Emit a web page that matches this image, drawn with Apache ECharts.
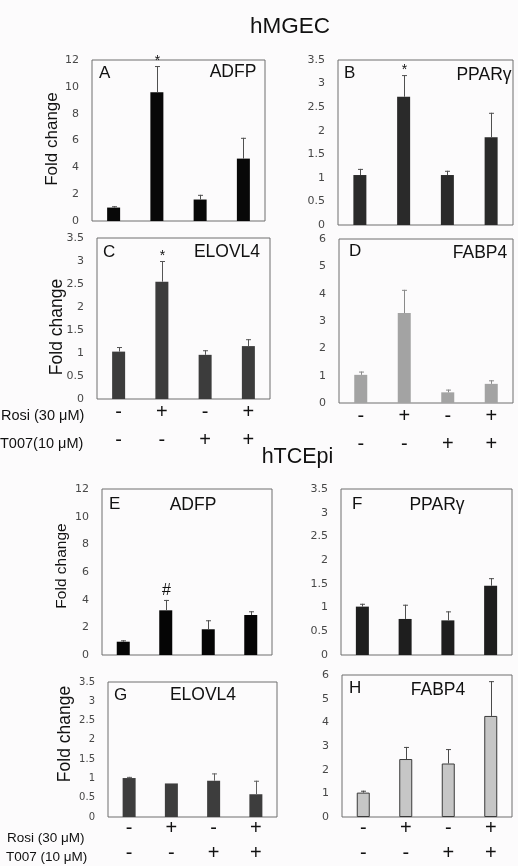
<!DOCTYPE html>
<html>
<head>
<meta charset="utf-8">
<script src="https://cdn.jsdelivr.net/npm/echarts@6/dist/echarts.min.js"></script>
<style>
html,body{margin:0;padding:0;background:#fcfbfc;}
#main{width:518px;height:866px;}
</style>
</head>
<body>
<div id="main"></div>
<script>
// ---------- DATA ----------
const conditions = ['Control', 'Rosi', 'T007', 'Rosi+T007'];
const rosiRow = ['-', '+', '-', '+'];
const t007Row = ['-', '-', '+', '+'];
const rosiLabel = 'Rosi (30 \u03bcM)';
const t007LabelTop = 'T007(10 \u03bcM)';
const t007LabelBottom = 'T007 (10 \u03bcM)';
const cellLines = ['hMGEC', 'hTCEpi'];
const yName = 'Fold change';

// hMGEC
const aMean = [1.0, 9.6, 1.6, 4.65];
const aSd   = [0.1, 1.95, 0.35, 1.55];
const aSig  = ['', '*', '', ''];
const bMean = [1.06, 2.72, 1.06, 1.86];
const bSd   = [0.13, 0.46, 0.09, 0.52];
const bSig  = ['', '*', '', ''];
const cMean = [1.03, 2.55, 0.96, 1.15];
const cSd   = [0.10, 0.45, 0.10, 0.15];
const cSig  = ['', '*', '', ''];
const dMean = [1.03, 3.29, 0.39, 0.70];
const dSd   = [0.12, 0.85, 0.10, 0.13];
const dSig  = ['', '', '', ''];
// hTCEpi
const eMean = [0.96, 3.23, 1.86, 2.89];
const eSd   = [0.10, 0.75, 0.65, 0.27];
const eSig  = ['', '#', '', ''];
const fMean = [1.02, 0.76, 0.73, 1.46];
const fSd   = [0.06, 0.30, 0.19, 0.16];
const fSig  = ['', '', '', ''];
const gMean = [1.01, 0.87, 0.94, 0.59];
const gSd   = [0.03, 0.0, 0.19, 0.35];
const gSig  = ['', '', '', ''];
const hMean = [1.03, 2.45, 2.26, 4.27];
const hSd   = [0.08, 0.51, 0.61, 1.47];
const hSig  = ['', '', '', ''];

const panelLetters = ['A','B','C','D','E','F','G','H'];
const genes = ['ADFP','PPAR\u03b3','ELOVL4','FABP4','ADFP','PPAR\u03b3','ELOVL4','FABP4'];

// ---------- LAYOUT / STYLE ----------
const panels = [
  {mean:aMean, sd:aSd, sig:aSig, left:92,  top:60,  w:173, h:161, max:12,  step:2,   color:'#080808', err:'#505050', fs:11},
  {mean:bMean, sd:bSd, sig:bSig, left:338, top:60,  w:175, h:165, max:3.5, step:0.5, color:'#2a2a2a', err:'#505050', fs:11},
  {mean:cMean, sd:cSd, sig:cSig, left:97,  top:238, w:173, h:161, max:3.5, step:0.5, color:'#3c3c3c', err:'#555555', fs:11, rows:'top'},
  {mean:dMean, sd:dSd, sig:dSig, left:339, top:239, w:174, h:164, max:6,   step:1,   color:'#a3a3a3', err:'#8a8a8a', fs:11, rows:'top'},
  {mean:eMean, sd:eSd, sig:eSig, left:102, top:489, w:170, h:166, max:12,  step:2,   color:'#050505', err:'#505050', fs:11},
  {mean:fMean, sd:fSd, sig:fSig, left:341, top:489, w:171, h:166, max:3.5, step:0.5, color:'#1e1e1e', err:'#505050', fs:11},
  {mean:gMean, sd:gSd, sig:gSig, left:108, top:682, w:169, h:136, max:3.5, step:0.5, color:'#3d3d3d', err:'#606060', fs:10, rows:'bottom'},
  {mean:hMean, sd:hSd, sig:hSig, left:342, top:675, w:170, h:143, max:6,   step:1,   color:'#c6c6c6', err:'#4a4a4a', fs:11, rows:'bottom', border:'#3a3a3a'}
];
const letterPos = [[99,73],[344,73],[103,252],[349,251],[109,504],[352,504],[114,695],[349,688]];
const genePos = [[233,72],[484,75],[227,252],[480,253],[193,505],[437,505],[203,695],[438,690]];
const foldPos = [[52,139,17],[57,327,17.5],[62,566,15.5],[65,734,17.5]];

const FONT = '"Liberation Sans", Arial, sans-serif';

const grid = [], xAxis = [], yAxis = [], series = [];
panels.forEach((p, i) => {
  grid.push({left:p.left, top:p.top, width:p.w, height:p.h, show:true, borderColor:'#6e6e6e', borderWidth:1, backgroundColor:'transparent'});
  let axisLabel = {show:false};
  if (p.rows) {
    const lh = p.rows === 'top' ? 28 : 25;
    axisLabel = {
      show:true, interval:0, margin:-1, lineHeight:lh,
      fontFamily:FONT, fontSize:20, color:'#111',
      formatter:(v, idx) => rosiRow[idx] + '\n' + t007Row[idx]
    };
  }
  xAxis.push({type:'category', gridIndex:i, data:conditions, boundaryGap:true,
    axisLine:{show:false}, axisTick:{show:false}, splitLine:{show:false}, axisLabel});
  yAxis.push({type:'value', gridIndex:i, min:0, max:p.max, interval:p.step,
    axisLine:{show:false}, axisTick:{show:false}, splitLine:{show:false},
    axisLabel:{margin:13, fontFamily:'"DejaVu Sans", sans-serif', fontSize:p.fs, color:'#474747'}});
  series.push({type:'bar', xAxisIndex:i, yAxisIndex:i, data:p.mean, barWidth:13,
    itemStyle:{color:p.color, borderColor:p.border || p.color, borderWidth:p.border ? 1 : 0}, z:2});
  const sig = p.sig, errColor = p.err;
  series.push({type:'custom', xAxisIndex:i, yAxisIndex:i, z:3,
    data:p.mean.map((m, k) => [k, m, m + p.sd[k]]),
    renderItem:(params, api) => {
      const k = api.value(0);
      const p0 = api.coord([k, api.value(1)]);
      const p1 = api.coord([k, api.value(2)]);
      const x = Math.round(p0[0]) + 0.5;
      const children = [];
      if (api.value(2) > api.value(1)) {
        children.push({type:'line', shape:{x1:x, y1:p0[1], x2:x, y2:p1[1]}, style:{stroke:errColor, lineWidth:1}});
        children.push({type:'line', shape:{x1:x-2.5, y1:p1[1]+0.5, x2:x+2.5, y2:p1[1]+0.5}, style:{stroke:errColor, lineWidth:1}});
      }
      const s = sig[params.dataIndex];
      if (s) {
        children.push({type:'text', x:x, y:p1[1] + (s === '*' ? 2 : -1),
          style:{text:s, textAlign:'center', textVerticalAlign:'bottom', fill:'#111',
            font:(s === '*' ? '14px ' : '16px ') + FONT}});
      }
      return {type:'group', children};
    }});
});

const graphic = [];
function txt(x, y, text, size, align, extra) {
  graphic.push(Object.assign({type:'text', x, y, style:{text, fill:'#111', font: size + 'px ' + FONT,
    textAlign:align || 'center', textVerticalAlign:'middle'}}, extra || {}));
}
txt(290, 27, cellLines[0], 22.5);
txt(297.5, 457, cellLines[1], 21.5);
panelLetters.forEach((l, i) => txt(letterPos[i][0], letterPos[i][1], l, 17, 'left'));
genes.forEach((g, i) => txt(genePos[i][0], genePos[i][1], g, 17.5));
foldPos.forEach(fp => txt(fp[0], fp[1], yName, fp[2], 'center', {rotation:Math.PI/2}));
txt(1, 415.5, rosiLabel, 14.5, 'left');
txt(0, 443.5, t007LabelTop, 14.5, 'left');
txt(7, 838, rosiLabel, 13.5, 'left');
txt(6, 857, t007LabelBottom, 13.5, 'left');

const chart = echarts.init(document.getElementById('main'), null, {renderer:'canvas'});
chart.setOption({backgroundColor:'#fcfbfc', animation:false, grid, xAxis, yAxis, series, graphic});
</script>
</body>
</html>
